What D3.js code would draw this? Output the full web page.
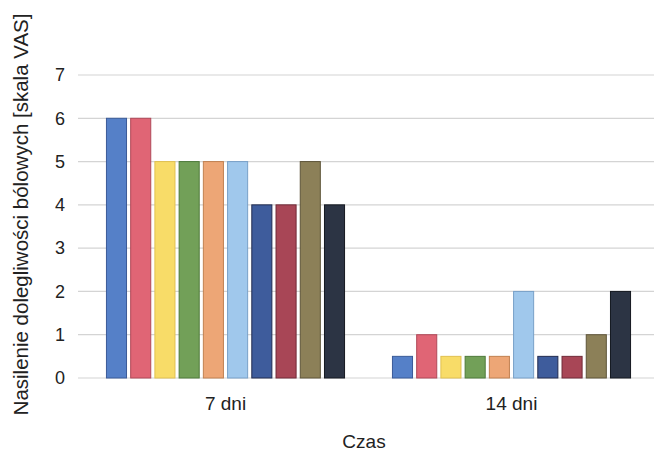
<!DOCTYPE html>
<html>
<head>
<meta charset="utf-8">
<script src="https://cdn.jsdelivr.net/npm/d3@7"></script>
<style>
  html, body { margin: 0; padding: 0; background: #fff; }
  svg { display: block; }
  text { font-family: "Liberation Sans", Arial, sans-serif; fill: #222; }
</style>
</head>
<body>
<svg id="chart" width="654" height="452"></svg>
<script>
const categories = ["7 dni", "14 dni"];
const seriesNames = ["S1","S2","S3","S4","S5","S6","S7","S8","S9","S10"];
const values7 = [6, 6, 5, 5, 5, 5, 4, 4, 5, 4];
const values14 = [0.5, 1, 0.5, 0.5, 0.5, 2, 0.5, 0.5, 1, 2];
const yTicks = [0, 1, 2, 3, 4, 5, 6, 7];
const colors = ["#5580c8", "#e06575", "#f8dc68", "#72a058", "#eda676", "#a0c8ec", "#3e5c9c", "#a84656", "#8c8058", "#2c3444"];
const strokes = ["#3a5a98", "#b04858", "#e0c050", "#4e7a3a", "#c08050", "#78a0c8", "#222c50", "#702a38", "#5e5438", "#141820"];
const yTitle = "Nasilenie dolegliwości bólowych [skala VAS]";
const xTitle = "Czas";

const data = categories.map((c, i) => ({
  cat: c,
  vals: seriesNames.map((s, j) => ({ s, j, v: (i === 0 ? values7 : values14)[j] }))
}));

const svg = d3.select("#chart");
const mLeft = 82.5, mRight = 654.5, mTop = 75, mBottom = 378;

const x0 = d3.scaleBand().domain(categories).range([mLeft, mRight]).paddingInner(0.164).paddingOuter(0.082);
const x1 = d3.scaleBand().domain(seriesNames).range([0, x0.bandwidth()]).paddingInner(0.13).paddingOuter(0.0);
const y = d3.scaleLinear().domain([0, 7]).range([mBottom, mTop]);

// gridlines
svg.append("g").selectAll("line").data(yTicks).join("line")
  .attr("x1", 78).attr("x2", 654)
  .attr("y1", d => y(d)).attr("y2", d => y(d))
  .attr("stroke", "#d4d4d4").attr("stroke-width", 1.2);

// y axis labels
const yAxis = d3.axisLeft(y).tickValues(yTicks).tickFormat(d3.format("d")).tickSize(0).tickPadding(0);
const ya = svg.append("g").attr("transform", "translate(65,0)").call(yAxis);
ya.select(".domain").remove();
ya.selectAll("text").attr("font-size", 18).attr("font-family", "'Liberation Sans', Arial, sans-serif").attr("fill", "#222");

// bars
const groups = svg.append("g").selectAll("g").data(data).join("g")
  .attr("transform", d => `translate(${x0(d.cat)},0)`);
groups.selectAll("rect").data(d => d.vals).join("rect")
  .attr("x", d => x1(d.s) + 0.5)
  .attr("width", x1.bandwidth() - 1)
  .attr("y", d => y(d.v))
  .attr("height", d => y(0) - y(d.v))
  .attr("fill", d => colors[d.j])
  .attr("stroke", d => strokes[d.j])
  .attr("stroke-width", 1);

// x axis labels
const xAxis = d3.axisBottom(x0).tickSize(0).tickPadding(0);
const xa = svg.append("g").attr("transform", "translate(0,0)").call(xAxis);
xa.select(".domain").remove();
xa.selectAll("text").attr("font-size", 19).attr("font-family", "'Liberation Sans', Arial, sans-serif").attr("fill", "#222")
  .attr("y", 410).attr("dy", 0);

// axis titles
svg.append("text").attr("x", 364).attr("y", 448).attr("text-anchor", "middle")
  .attr("font-size", 19).text(xTitle);
svg.append("text").attr("transform", "translate(27.5,214.5) rotate(-90)").attr("text-anchor", "middle")
  .attr("font-size", 20.5).text(yTitle);
</script>
</body>
</html>
